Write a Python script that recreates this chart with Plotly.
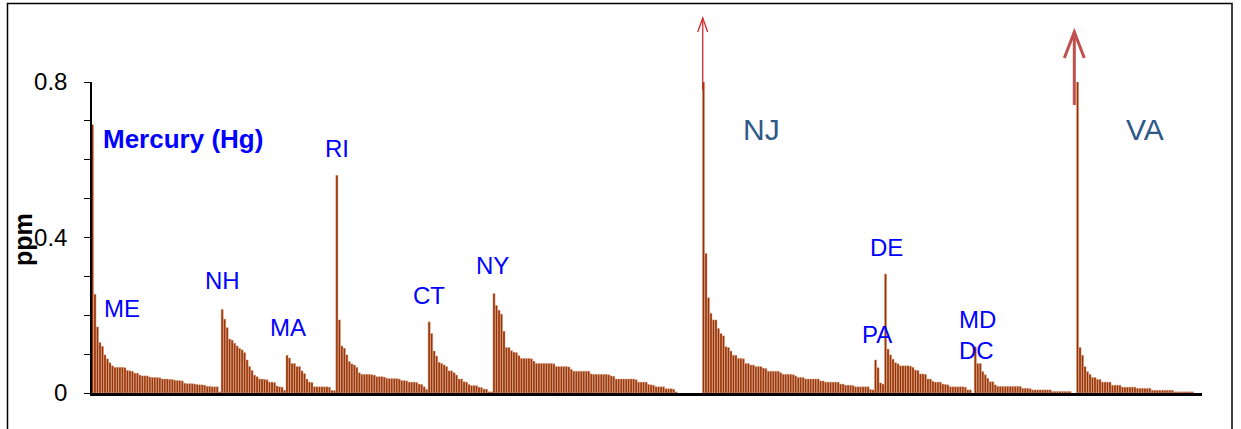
import plotly.graph_objects as go

# ---------------- data (Hg, ppm), each state's sites sorted descending ----------------
states = ["ME", "NH", "MA", "RI", "CT", "NY", "NJ", "PA", "DE", "MD/DC", "VA"]

me_hg = [0.69, 0.254, 0.17, 0.13, 0.12, 0.098, 0.088, 0.078, 0.07, 0.066, 0.066, 0.066, 0.066,
         0.065, 0.058, 0.057, 0.056, 0.051, 0.051, 0.046, 0.044, 0.044, 0.044, 0.041, 0.040,
         0.040, 0.040, 0.039, 0.036, 0.036, 0.036, 0.035, 0.035, 0.033, 0.032, 0.032, 0.031,
         0.025, 0.024, 0.024, 0.024, 0.023, 0.022, 0.021, 0.021, 0.020, 0.017, 0.017, 0.016,
         0.016, 0.016, 0.003]
nh_hg = [0.215, 0.19, 0.168, 0.139, 0.136, 0.128, 0.121, 0.115, 0.111, 0.104, 0.085, 0.068,
         0.058, 0.046, 0.042, 0.036, 0.036, 0.035, 0.034, 0.028, 0.028, 0.027, 0.018, 0.016,
         0.015, 0.007]
ma_hg = [0.097, 0.09, 0.076, 0.076, 0.068, 0.068, 0.057, 0.05, 0.036, 0.028, 0.027, 0.016,
         0.016, 0.016, 0.016, 0.016, 0.016, 0.015, 0.007, 0.006]
ri_hg = [0.56, 0.188, 0.121, 0.115, 0.098, 0.081, 0.075, 0.072, 0.066, 0.052, 0.048, 0.048,
         0.048, 0.048, 0.047, 0.046, 0.042, 0.042, 0.042, 0.041, 0.038, 0.037, 0.037, 0.037,
         0.037, 0.036, 0.032, 0.032, 0.031, 0.028, 0.028, 0.028, 0.027, 0.023, 0.022, 0.016,
         0.009]
ct_hg = [0.183, 0.153, 0.108, 0.095, 0.079, 0.076, 0.072, 0.068, 0.057, 0.057, 0.052, 0.046,
         0.036, 0.036, 0.029, 0.028, 0.022, 0.019, 0.019, 0.019, 0.015, 0.014, 0.010, 0.010,
         0.003, 0.003]
ny_hg = [0.256, 0.225, 0.213, 0.203, 0.159, 0.117, 0.117, 0.109, 0.105, 0.104, 0.096, 0.089,
         0.089, 0.089, 0.089, 0.088, 0.082, 0.076, 0.076, 0.076, 0.076, 0.076, 0.076, 0.076,
         0.075, 0.068, 0.068, 0.068, 0.068, 0.068, 0.067, 0.061, 0.056, 0.056, 0.056, 0.056,
         0.056, 0.056, 0.056, 0.049, 0.048, 0.048, 0.048, 0.048, 0.048, 0.048, 0.047, 0.044,
         0.043, 0.036, 0.036, 0.036, 0.036, 0.036, 0.036, 0.036, 0.036, 0.034, 0.028, 0.028,
         0.028, 0.028, 0.022, 0.021, 0.020, 0.016, 0.016, 0.016, 0.016, 0.011, 0.011, 0.011,
         0.010, 0.003]
nj_hg = [0.8, 0.359, 0.245, 0.205, 0.188, 0.188, 0.166, 0.153, 0.147, 0.119, 0.117, 0.108,
         0.097, 0.097, 0.089, 0.089, 0.088, 0.076, 0.076, 0.072, 0.072, 0.068, 0.068, 0.068,
         0.064, 0.063, 0.056, 0.056, 0.056, 0.056, 0.056, 0.052, 0.048, 0.048, 0.048, 0.048,
         0.047, 0.044, 0.040, 0.040, 0.040, 0.036, 0.036, 0.036, 0.036, 0.036, 0.036, 0.031,
         0.031, 0.028, 0.028, 0.028, 0.028, 0.028, 0.028, 0.023, 0.023, 0.020, 0.020, 0.020,
         0.019, 0.016, 0.016, 0.016, 0.016, 0.016, 0.016, 0.009, 0.008]
pa_hg = [0.085, 0.065, 0.026, 0.023]
de_hg = [0.306, 0.113, 0.098, 0.087, 0.078, 0.075, 0.070, 0.070, 0.070, 0.070, 0.069, 0.066,
         0.059, 0.058, 0.049, 0.049, 0.048, 0.036, 0.036, 0.030, 0.028, 0.028, 0.028, 0.023,
         0.022, 0.021, 0.016, 0.016, 0.016, 0.016, 0.016, 0.016, 0.015, 0.008, 0.008]
mddc_hg = [0.119, 0.076, 0.076, 0.055, 0.047, 0.038, 0.029, 0.029, 0.021, 0.017, 0.017, 0.017,
           0.017, 0.017, 0.017, 0.017, 0.017, 0.017, 0.017, 0.012, 0.012, 0.012, 0.011, 0.008,
           0.008, 0.008, 0.008, 0.008, 0.008, 0.008, 0.008, 0.004, 0.004, 0.004, 0.004, 0.004,
           0.004, 0.004, 0.004]
va_hg = [0.8, 0.117, 0.097, 0.068, 0.055, 0.048, 0.040, 0.040, 0.035, 0.035, 0.028, 0.028,
         0.028, 0.028, 0.020, 0.020, 0.020, 0.020, 0.015, 0.015, 0.015, 0.015, 0.015, 0.015,
         0.012, 0.012, 0.012, 0.012, 0.012, 0.012, 0.007, 0.007, 0.007, 0.007, 0.007, 0.007,
         0.007, 0.007, 0.007, 0.003, 0.003, 0.003, 0.003, 0.003, 0.003, 0.003, 0.003]
offscale_states = ["NJ", "VA"]   # first site exceeds the 0.8 ppm axis

series = [me_hg, nh_hg, ma_hg, ri_hg, ct_hg, ny_hg, nj_hg, pa_hg, de_hg, mddc_hg, va_hg]
empty_slots_before = {"NJ": 10, "MD/DC": 1, "VA": 2}

# ---------------- build bar positions ----------------
xs, ys, names = [], [], []
start = {}
i = 0
for st, vals in zip(states, series):
    for _ in range(empty_slots_before.get(st, 0)):
        xs.append(i); ys.append(None); names.append("")
        i += 1
    start[st] = i
    for v in vals:
        xs.append(i); ys.append(v); names.append(st)
        i += 1

W, H = 1241, 429
X0, X1 = -0.2, 444.9
L, R, T, B = 92, 1202, 82, 393   # plot-area pixels


def xp(px):
    return (px - L) / (R - L)


def yp(py):
    return (B - py) / (B - T)


def xi(idx):
    return (idx - X0) / (X1 - X0)


SANS = "Liberation Sans, Arial, sans-serif"
BLUE = "#0000FF"

fig = go.Figure()
fig.add_trace(go.Bar(
    x=xs, y=ys, text=names, hovertemplate="%{text}: %{y} ppm<extra></extra>",
    textposition="none",
    marker=dict(color="#983206", line=dict(color="#DDA585", width=0.45)),
))

fig.update_layout(
    width=W, height=H,
    margin=dict(l=L, r=W - R, t=T, b=H - B),
    paper_bgcolor="white", plot_bgcolor="white",
    showlegend=False, bargap=0.15,
)
fig.update_xaxes(range=[X0, X1], showline=True, linecolor="black", linewidth=3,
                 showticklabels=False, ticks="", showgrid=False, zeroline=False)
fig.update_yaxes(range=[0, 0.8], tickvals=[0, 0.4, 0.8], ticktext=["0", "0.4", "0.8"],
                 ticks="outside", ticklen=6, tickwidth=1, tickcolor="black",
                 minor=dict(dtick=0.1, tick0=0, ticks="outside", ticklen=6, tickwidth=1,
                            tickcolor="black", showgrid=False),
                 ticklabelstandoff=12,
                 showline=True, linecolor="black", linewidth=1.5, showgrid=False,
                 zeroline=False, tickfont=dict(family=SANS, size=24, color="black"))

ann = []


def label(text, cx, cy, size=24, color=BLUE, family=SANS, bold=False, angle=0):
    t = f"<b>{text}</b>" if bold else text
    ann.append(dict(text=t, x=xp(cx), y=yp(cy), xref="paper", yref="paper",
                    xanchor="center", yanchor="middle", showarrow=False,
                    textangle=angle, font=dict(family=family, size=size, color=color)))


label("Mercury (Hg)", 183, 139, size=26, bold=True)
label("ME", 122, 308)
label("NH", 222, 280)
label("MA", 288, 327)
label("RI", 337, 148)
label("CT", 429, 295)
label("NY", 493, 265)
label("PA", 877, 334)
label("DE", 886, 247)
label("MD", 977, 319)
label("DC", 976, 350)
label("NJ", 761, 129, size=30, color="#2E5A88")
label("VA", 1145, 129, size=30, color="#2E5A88")
label("ppm", 23, 240, size=25, color="black", bold=True, angle=-90)
fig.update_layout(annotations=ann)

shapes = []
# outer frame
shapes.append(dict(type="rect", xref="paper", yref="paper", x0=xp(7.5), x1=xp(1232),
                   y0=yp(460), y1=yp(3.5), line=dict(color="black", width=1.5)))


def up_arrow(idx, y_tail, y_tip, head_h, head_w, color, width):
    x = xi(idx)
    dx = head_w / (X1 - X0)
    shapes.append(dict(type="line", xref="paper", yref="paper", x0=x, x1=x,
                       y0=yp(y_tail), y1=yp(y_tip), line=dict(color=color, width=width)))
    shapes.append(dict(type="path", xref="paper", yref="paper",
                       path=f"M {x - dx},{yp(y_tip + head_h)} L {x},{yp(y_tip)} L {x + dx},{yp(y_tip + head_h)}",
                       line=dict(color=color, width=width)))


up_arrow(start["NJ"] - 0.3, 90, 18, 14, 2.0, "#D42A2A", 1.3)
up_arrow(start["VA"] - 1.3, 105, 32, 26, 4.0, "#C0504D", 3)
fig.update_layout(shapes=shapes)

fig.write_html(
    "out.html",
    config={"displayModeBar": False},
    post_script="document.body.style.margin='0px';document.body.style.overflow='hidden';",
)
